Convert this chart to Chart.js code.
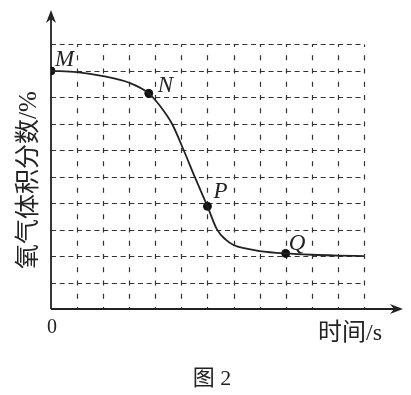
<!DOCTYPE html>
<html>
<head>
<meta charset="utf-8">
<script src="https://cdn.jsdelivr.net/npm/chart.js@4"></script>
<style>
html,body{margin:0;padding:0;background:#fff;}
canvas{display:block;}
</style>
</head>
<body>
<canvas id="c" width="411" height="395"></canvas>
<script>
// Data
const timeValues = [0, 1, 2, 3, 3.75, 4.2, 4.64, 5.09, 5.51, 6, 6.37, 6.7, 7, 7.5, 8, 9, 10, 11, 12];
const oxygenValues = [9.0, 8.95, 8.8, 8.55, 8.15, 7.65, 7.0, 6.0, 5.0, 3.88, 3.0, 2.62, 2.42, 2.28, 2.19, 2.1, 2.05, 2.02, 2.0];
const markX = [0, 3.75, 6, 9];
const markY = [9.0, 8.15, 3.88, 2.1];
const markLabels = ['M', 'N', 'P', 'Q'];
const xGridTicks = [1,2,3,4,5,6,7,8,9,10,11,12];
const yGridTicks = [1,2,3,4,5,6,7,8,9,10];
const xAxisTitle = '时间/s';
const yAxisTitle = '氧气体积分数/%';
const originLabel = '0';
const figureCaption = '图 2';

const gridMaxX = 12, gridMaxY = 10;
const axisEndX = 13.5, axisEndY = 11.3;

const curveData = timeValues.map((t, i) => ({x: t, y: oxygenValues[i]}));
const markData = markX.map((t, i) => ({x: t, y: markY[i]}));

const labelOffsets = [[4, -5], [9, -1], [6, -8], [3, -3]];

const drawPlugin = {
  id: 'figure',
  beforeDatasetsDraw(chart) {
    const ctx = chart.ctx, xs = chart.scales.x, ys = chart.scales.y;
    ctx.save();
    ctx.strokeStyle = '#333';
    ctx.lineWidth = 1.2;
    // horizontal dashed grid
    ctx.setLineDash([5, 3.7]);
    yGridTicks.forEach(v => {
      const py = Math.round(ys.getPixelForValue(v)) + 0.5;
      ctx.beginPath();
      ctx.moveTo(xs.getPixelForValue(0), py);
      ctx.lineTo(xs.getPixelForValue(gridMaxX), py);
      ctx.stroke();
    });
    // vertical dashed grid
    ctx.setLineDash([5, 8.25]);
    ctx.lineDashOffset = 2.5;
    xGridTicks.forEach(v => {
      const px = Math.round(xs.getPixelForValue(v)) + 0.5;
      ctx.beginPath();
      ctx.moveTo(px, ys.getPixelForValue(gridMaxY));
      ctx.lineTo(px, ys.getPixelForValue(0));
      ctx.stroke();
    });
    ctx.setLineDash([]);
    // axes
    ctx.strokeStyle = '#222';
    ctx.fillStyle = '#222';
    ctx.lineWidth = 1.8;
    const ox = xs.getPixelForValue(0), oy = ys.getPixelForValue(0);
    const ex = xs.getPixelForValue(axisEndX), ey = ys.getPixelForValue(axisEndY);
    ctx.beginPath();
    ctx.moveTo(ox, oy); ctx.lineTo(ex - 6, oy);
    ctx.moveTo(ox, oy); ctx.lineTo(ox, ey + 6);
    ctx.stroke();
    // arrowheads
    ctx.beginPath();
    ctx.moveTo(ex, oy); ctx.lineTo(ex - 13, oy - 5); ctx.lineTo(ex - 9, oy); ctx.lineTo(ex - 13, oy + 5); ctx.closePath();
    ctx.fill();
    ctx.beginPath();
    ctx.moveTo(ox, ey); ctx.lineTo(ox - 5, ey + 13); ctx.lineTo(ox, ey + 9); ctx.lineTo(ox + 5, ey + 13); ctx.closePath();
    ctx.fill();
    ctx.restore();
  },
  afterDraw(chart) {
    const ctx = chart.ctx, xs = chart.scales.x, ys = chart.scales.y;
    ctx.save();
    ctx.fillStyle = '#222';
    ctx.textBaseline = 'alphabetic';
    ctx.textAlign = 'left';
    ctx.font = 'italic 23px "Liberation Serif", serif';
    markLabels.forEach((lab, i) => {
      const px = xs.getPixelForValue(markX[i]) + labelOffsets[i][0];
      const py = ys.getPixelForValue(markY[i]) + labelOffsets[i][1];
      ctx.fillText(lab, px, py);
    });
    ctx.font = '20px "Liberation Serif", serif';
    ctx.fillText(originLabel, xs.getPixelForValue(0) - 4, ys.getPixelForValue(0) + 24);
    ctx.font = '24px "Liberation Serif", "Noto Sans CJK SC", serif';
    ctx.fillText(xAxisTitle, 318, 340);
    ctx.textAlign = 'center';
    ctx.font = '22px "Liberation Serif", "Noto Sans CJK SC", serif';
    ctx.fillText(figureCaption, 212, 385);
    ctx.save();
    ctx.translate(36, 180);
    ctx.rotate(-Math.PI / 2);
    ctx.font = '25px "Liberation Serif", "Noto Sans CJK SC", serif';
    ctx.fillText(yAxisTitle, 0, 0);
    ctx.restore();
    ctx.restore();
  }
};

new Chart(document.getElementById('c'), {
  type: 'scatter',
  data: {
    datasets: [
      {
        type: 'line',
        data: curveData,
        borderColor: '#222',
        borderWidth: 1.8,
        pointRadius: 0,
        fill: false,
        cubicInterpolationMode: 'monotone'
      },
      {
        type: 'scatter',
        data: markData,
        backgroundColor: '#111',
        borderColor: '#111',
        pointRadius: 4
      }
    ]
  },
  options: {
    responsive: false,
    devicePixelRatio: 1,
    animation: false,
    layout: {padding: {left: 51, right: 8, top: 10, bottom: 86}},
    plugins: {legend: {display: false}, tooltip: {enabled: false}},
    scales: {
      x: {type: 'linear', min: 0, max: axisEndX, display: false},
      y: {type: 'linear', min: 0, max: axisEndY, display: false}
    }
  },
  plugins: [drawPlugin]
});
</script>
</body>
</html>
